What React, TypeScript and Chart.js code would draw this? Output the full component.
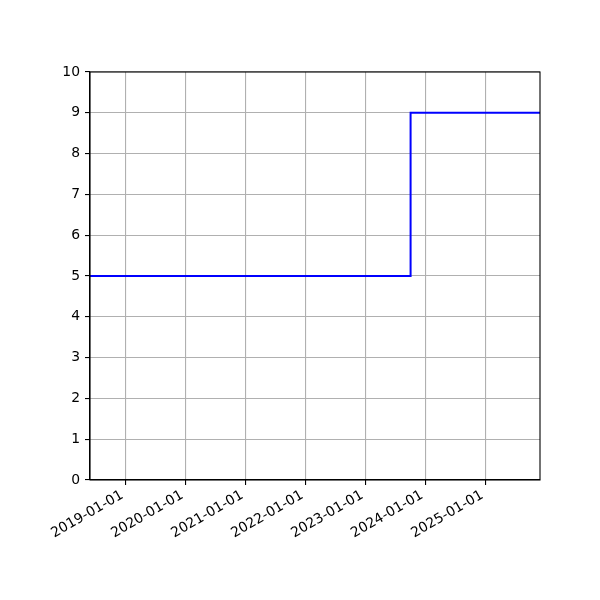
import React, { useEffect, useRef } from "react";
import { Chart, registerables } from "chart.js";

Chart.register(...registerables);

// Data
const xDates = ["2018-05-31", "2023-10-04", "2025-11-30"];
const yValues = [5, 9, 9];
const xRange = ["2018-05-31", "2025-11-30"];
const xTickLabels = [
  "2019-01-01",
  "2020-01-01",
  "2021-01-01",
  "2022-01-01",
  "2023-01-01",
  "2024-01-01",
  "2025-01-01",
];
const yTicks = [0, 1, 2, 3, 4, 5, 6, 7, 8, 9, 10];

const toMs = (s: string) => Date.parse(s + "T00:00:00Z");
const fmt = (v: number) => new Date(v).toISOString().slice(0, 10);

const FONT = { family: "'DejaVu Sans', sans-serif", size: 13.9 };

const framePlugin = {
  id: "frame",
  afterDraw(chart: any) {
    const { ctx, chartArea } = chart;
    ctx.save();
    ctx.strokeStyle = "#000";
    ctx.lineWidth = 1.1;
    ctx.strokeRect(chartArea.left, chartArea.top, chartArea.right - chartArea.left, chartArea.bottom - chartArea.top);
    ctx.restore();
  },
};

export default function App() {
  const ref = useRef<HTMLCanvasElement>(null);
  useEffect(() => {
    if (!ref.current) return;
    const chart = new Chart(ref.current, {
      type: "line",
      data: {
        datasets: [
          {
            data: xDates.map((d, i) => ({ x: toMs(d), y: yValues[i] })),
            borderColor: "#0000ff",
            borderWidth: 2,
            pointRadius: 0,
            stepped: "before",
            fill: false,
          },
        ],
      },
      options: {
        animation: false,
        responsive: false,
        events: [],
        layout: { padding: { left: 0, top: 72, right: 60, bottom: 0 } },
        plugins: { legend: { display: false }, tooltip: { enabled: false } },
        scales: {
          x: {
            type: "linear",
            min: toMs(xRange[0]),
            max: toMs(xRange[1]),
            afterBuildTicks: (axis: any) => {
              axis.ticks = xTickLabels.map((l) => ({ value: toMs(l) }));
            },
            afterFit: (axis: any) => {
              axis.height = 120;
            },
            ticks: {
              callback: (v: any) => fmt(Number(v)),
              minRotation: 30,
              maxRotation: 30,
              autoSkip: false,
              font: FONT,
              color: "#000",
              padding: 2,
              labelOffset: -3,
            },
            grid: { color: "#b0b0b0", lineWidth: 1.1, tickLength: 5, tickColor: "#000", tickWidth: 1.1 },
            border: { display: true, color: "#000", width: 1.1 },
          },
          y: {
            type: "linear",
            min: 0,
            max: 10,
            afterBuildTicks: (axis: any) => {
              axis.ticks = yTicks.map((v) => ({ value: v }));
            },
            afterFit: (axis: any) => {
              axis.width = 90;
            },
            ticks: { font: FONT, color: "#000", padding: 5 },
            grid: { color: "#b0b0b0", lineWidth: 1.1, tickLength: 5, tickColor: "#000", tickWidth: 1.1 },
            border: { display: true, color: "#000", width: 1.1 },
          },
        },
      },
      plugins: [framePlugin],
    });
    return () => chart.destroy();
  }, []);
  return (
    <div style={{ position: "fixed", left: 0, top: 0, width: 600, height: 600, background: "#fff" }}>
      <canvas ref={ref} width={600} height={600} />
    </div>
  );
}
